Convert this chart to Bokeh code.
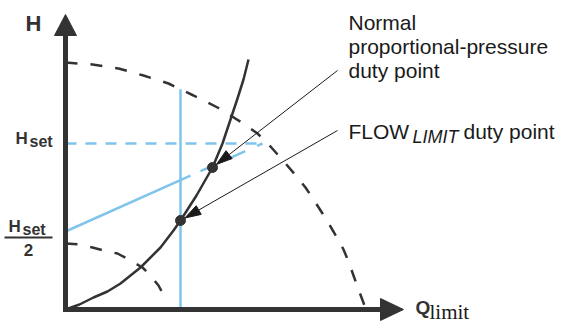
import numpy as np
from bokeh.plotting import figure
from bokeh.models import Range1d
from bokeh.core.properties import value
from bokeh.embed import file_html
from bokeh.resources import INLINE

# ---------------- data (flow Q, head H in diagram units; origin at the axes corner)
# system curve (solid)
SYS_Q = [0, 14, 28, 42, 55, 75, 95, 108, 115, 131, 147, 157, 165, 172, 178, 183]
SYS_H = [0, 5, 12, 18, 26, 42, 62, 79, 89, 114, 142, 166, 190, 211, 230, 250]
# max pump curve (dashed, outer)
PMAX_Q = [0, 27, 53, 78, 103, 128, 152, 165, 178, 192, 205, 220, 232, 240, 248,
          257, 265, 272, 278, 283, 288, 293, 299]
PMAX_H = [247, 245, 241, 234, 226, 214, 202, 194, 186, 176, 163, 146, 132, 122, 110,
          96, 83, 71, 60, 48, 34, 20, 4]
# min pump curve (dashed, inner)
PMIN_Q = [0, 14, 27, 38, 52, 65, 77, 85, 93, 100]
PMIN_H = [66, 65, 62, 59, 56, 49, 42, 34, 24, 11]
# proportional-pressure setting
H_SET = 166
PP_H0 = 78          # head of the proportional-pressure line at zero flow
PP_Q_END = 197      # flow at which that line reaches H_set
PP_Q_SOLID = 125    # end of solid part
PP_Q_DASH = 135     # start of dashed part
Q_LIMIT = 115
# duty points: normal proportional-pressure, FLOW_LIMIT
DUTY_Q = [147, 115]
DUTY_H = [142, 89]

DARK = "#333333"
BLUE = "#7fc4ea"
TXT = "#1a1a1a"
SANS = value("Liberation Sans")
SERIF = value("Liberation Serif")

p = figure(width=563, height=325, x_range=Range1d(-65, 498), y_range=Range1d(-16, 309),
           output_backend="svg", toolbar_location=None,
           x_axis_location=None, y_axis_location=None, min_border=0)
p.grid.visible = False
p.outline_line_color = None
p.background_fill_color = "white"
p.border_fill_color = "white"


def pp(q):
    return PP_H0 + (H_SET - PP_H0) * q / PP_Q_END


# blue guide lines
p.line([0, PP_Q_END], [H_SET, H_SET], line_color=BLUE, line_width=2.5, line_dash="11 9")
p.line([0, PP_Q_SOLID], [pp(0), pp(PP_Q_SOLID)], line_color=BLUE, line_width=2.5)
p.line([PP_Q_DASH, PP_Q_END], [pp(PP_Q_DASH), pp(PP_Q_END)], line_color=BLUE,
       line_width=2.5, line_dash="18 13")
q_top = float(np.interp(Q_LIMIT, PMAX_Q, PMAX_H))
p.line([Q_LIMIT, Q_LIMIT], [0, q_top], line_color=BLUE, line_width=2.5)

# pump curves
p.line(PMAX_Q, PMAX_H, line_color=DARK, line_width=2.5, line_dash="12 13")
p.line(PMIN_Q, PMIN_H, line_color=DARK, line_width=2.5, line_dash="12 13")
# system curve
p.line(SYS_Q, SYS_H, line_color=DARK, line_width=2.5, line_join="round")

# axes with arrow heads
X_END, Y_END, HL, HW = 315, 274, 22, 11
p.line([0, 0, X_END], [Y_END, 0, 0], line_color=DARK, line_width=5, line_join="miter")
p.patches([[-HW, HW, 0], [X_END, X_END, X_END + HL + 1]],
          [[Y_END, Y_END, Y_END + HL - 1], [-HW, HW, 0]],
          fill_color=DARK, line_color=DARK, line_width=1)

# duty points
p.scatter(DUTY_Q, DUTY_H, size=10, fill_color=DARK, line_color=DARK)

# annotation arrows
ANN_START = [(272, 239), (272, 179)]
AL, AW = 16, 5
xs_h, ys_h, sx0, sy0, sx1, sy1 = [], [], [], [], [], []
for (sx, sy), q, h in zip(ANN_START, DUTY_Q, DUTY_H):
    d = np.array([q - sx, h - sy], float)
    u = d / np.hypot(*d)
    tip = np.array([q, h]) - u * 5
    base = tip - u * AL
    n = np.array([-u[1], u[0]])
    a, b = base + n * AW, base - n * AW
    xs_h.append([tip[0], a[0], b[0]])
    ys_h.append([tip[1], a[1], b[1]])
    sx0.append(sx); sy0.append(sy); sx1.append(base[0]); sy1.append(base[1])
p.segment(sx0, sy0, sx1, sy1, line_color=TXT, line_width=1)
p.patches(xs_h, ys_h, fill_color=TXT, line_color=TXT, line_width=1)

DY = 6  # compensate the renderer's baseline placement


def txt(x, y, s, size, font=SANS, style="normal", color=TXT, align="left"):
    p.text([x], [y + DY], text=[s], text_font=font, text_font_size=size,
           text_font_style=style, text_color=color, text_align=align,
           text_baseline="alphabetic")


# right-hand annotation texts
txt(283, 281, "Normal", "21px")
txt(283, 257, "proportional-pressure", "21px")
txt(283, 233, "duty point", "21px")
txt(283, 172, "FLOW", "21px")
txt(347, 167, "LIMIT", "18px", style="italic")
txt(398, 172, "duty point", "21px")

# axis labels
txt(-40, 280, "H", "22px", style="bold", color=DARK)
txt(-50, 165, "H", "17px", style="bold", color=DARK)
txt(-36, 162, "set", "16px", style="bold", color=DARK)
txt(-57, 77, "H", "17px", style="bold", color=DARK)
txt(-43, 74, "set", "16px", style="bold", color=DARK)
p.line([-61, -13], [72, 72], line_color=DARK, line_width=2)
txt(-37, 54, "2", "17px", style="bold", color=DARK, align="center")
txt(350, -4, "Q", "19px", style="bold", color=DARK)
txt(364, -8, "limit", "21px", font=SERIF, color=TXT)

open("out.html", "w").write(file_html(p, INLINE))
